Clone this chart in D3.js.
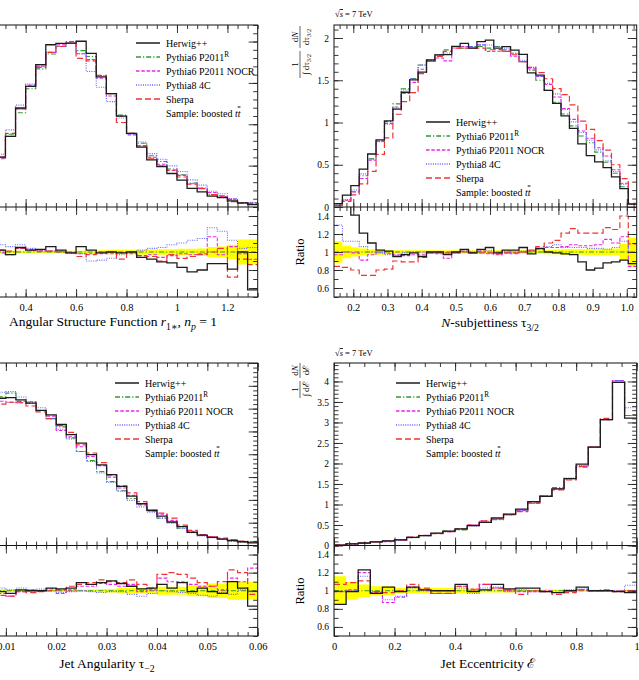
<!DOCTYPE html>
<html>
<head>
<meta charset="utf-8">
<script src="https://cdnjs.cloudflare.com/ajax/libs/d3/7.8.5/d3.min.js"></script>
<style>
  body { margin: 0; background: #fff; }
  svg { font-family: "Liberation Serif", "DejaVu Serif", serif; }
</style>
</head>
<body>
<svg class="viz" width="639" height="680"></svg>
<script>
// generator names (legend order)
var genNames = ["Herwig++", "Pythia6 P2011", "Pythia6 P2011 NOCR", "Pythia8 4C", "Sherpa"];
var sampleText = "Sample: boosted ";

// ---- angular structure function r1*, np=1 (30 bins) ----
// ref = Pythia6 P2011R main values, others = ratio to ref
var r1Range = [0.12, 1.32];
var r1Ref = [0.05,0.15,0.30,0.45,0.59,0.88,1.14,1.43,1.67,1.85,1.94,2.00,1.89,1.82,1.59,1.37,1.11,0.89,0.77,0.62,0.55,0.46,0.39,0.29,0.23,0.15,0.13,0.09,0.05,0.05];
var r1Herwig = [1.0,1.0,1.0,1.0,1.02,0.97,1.05,1.02,1.03,1.06,1.02,0.99,1.06,1.02,0.99,1.0,0.99,1.0,0.94,0.92,0.89,0.88,0.83,0.78,0.80,0.87,0.87,0.81,1.0,0.58];
var r1Nocr = [1.0,1.0,1.0,1.0,0.99,0.97,1.04,1.03,1.02,1.01,1.01,0.99,0.98,0.98,0.98,0.98,0.99,0.98,0.96,0.97,0.94,0.96,0.98,0.97,0.98,1.17,0.97,1.06,0.98,0.92];
var r1Py8 = [1.02,1.03,1.05,1.07,1.08,1.06,1.08,1.04,1.02,1.01,1.0,0.99,0.98,0.90,0.91,0.93,0.97,0.99,1.02,1.04,1.05,1.08,1.10,1.13,1.15,1.27,1.23,1.13,1.04,1.05];
var r1Sherpa = [1.0,1.0,1.0,1.0,1.02,1.01,1.04,1.02,1.01,1.01,1.0,0.99,0.95,0.97,1.0,1.0,0.92,1.0,0.96,0.95,0.90,0.97,0.93,0.95,0.97,1.0,1.04,0.72,0.92,0.86];
var r1Err = [0.03,0.025,0.02,0.02,0.02,0.015,0.015,0.015,0.015,0.015,0.015,0.015,0.015,0.015,0.02,0.025,0.025,0.025,0.03,0.03,0.03,0.03,0.035,0.035,0.04,0.055,0.06,0.08,0.14,0.14];
var r1Ticks = [0.4, 0.6, 0.8, 1, 1.2];
var r1TickLabels = ["0.4", "0.6", "0.8", "1", "1.2"];
var r1YTicks = [0.5, 1, 1.5, 2];

// ---- N-subjettiness tau3/2 (36 bins) ----
var tauRange = [0.1436, 1.029];
var tauRef = [0.02,0.08,0.18,0.37,0.57,0.78,1.01,1.22,1.40,1.52,1.68,1.74,1.80,1.86,1.90,1.88,1.90,1.90,1.88,1.90,1.86,1.82,1.72,1.62,1.50,1.38,1.24,1.10,0.96,0.84,0.76,0.65,0.53,0.40,0.24,0.04];
var tauHerwig = [2.0,1.75,1.41,1.21,1.10,1.02,1.01,0.95,0.97,0.99,0.95,1.0,1.0,0.97,1.0,1.03,0.99,1.03,1.05,0.99,1.02,1.02,1.05,0.98,1.04,1.0,0.99,0.98,0.97,0.89,0.80,0.82,0.88,0.89,0.91,0.87];
var tauNocr = [0.97,1.0,0.99,0.91,0.97,1.0,0.98,0.97,0.96,0.97,0.97,0.99,0.98,0.93,0.99,1.01,0.99,1.01,0.98,0.97,0.99,0.98,1.0,1.01,1.03,1.05,1.05,1.06,1.08,1.07,1.07,1.08,1.14,1.10,1.17,0.84];
var tauPy8 = [1.30,1.12,1.12,1.06,1.0,0.99,0.97,0.96,0.99,1.0,1.0,0.99,1.0,0.98,1.0,1.01,1.0,1.01,1.02,1.0,1.01,1.0,1.01,1.02,1.03,1.06,1.08,1.05,1.05,1.05,1.04,1.04,1.03,1.05,1.12,1.0];
var tauSherpa = [0.84,0.83,0.80,0.74,0.74,0.80,0.81,0.90,0.89,0.89,0.94,0.99,0.99,0.99,0.99,1.0,0.99,0.99,0.99,0.98,0.99,0.99,1.0,1.02,1.06,1.10,1.13,1.21,1.26,1.21,1.21,1.21,1.27,1.25,1.40,1.09];
var tauErr = [0.12,0.07,0.05,0.04,0.03,0.03,0.025,0.02,0.02,0.02,0.02,0.02,0.02,0.02,0.02,0.02,0.02,0.02,0.02,0.02,0.02,0.02,0.02,0.02,0.02,0.025,0.025,0.03,0.03,0.03,0.035,0.035,0.035,0.04,0.09,0.16];
var tauTicks = [0.2, 0.3, 0.4, 0.5, 0.6, 0.7, 0.8, 0.9, 1.0];
var tauTickLabels = ["0.2", "0.3", "0.4", "0.5", "0.6", "0.7", "0.8", "0.9", "1.0"];
var tauYTicks = [0, 0.5, 1, 1.5, 2];
var tauYLabels = ["0", "0.5", "1", "1.5", "2"];

// ---- jet angularity tau-2 (30 bins) ----
var angRange = [0, 0.06];
var angRef = [34.5,34.2,33.8,33.2,32.6,33.4,31.6,31.2,29.6,27.8,26.0,23.6,20.6,18.6,16.2,14.0,12.0,10.3,9.0,7.5,6.0,5.0,3.8,2.9,2.2,1.8,1.45,1.0,0.8,0.7];
var angHerwig = [1.0,1.0,1.0,1.0,0.99,0.97,1.01,1.0,1.0,1.03,1.02,1.03,1.09,1.07,1.09,1.11,1.08,1.05,1.02,1.03,1.07,1.03,1.09,0.99,1.03,0.99,0.97,1.10,1.03,0.83];
var angNocr = [0.97,0.97,0.97,0.97,0.97,0.94,0.99,1.01,1.0,1.02,0.97,1.01,1.05,1.05,1.08,1.07,1.05,1.07,0.99,1.01,1.14,1.10,1.10,1.07,1.05,1.05,1.01,1.14,1.10,1.25];
var angPy8 = [1.03,1.03,1.03,1.03,1.03,1.01,1.03,1.01,1.02,1.0,0.98,0.99,1.0,0.99,0.98,0.99,0.99,0.96,0.94,0.97,1.0,0.99,0.98,0.97,0.95,0.94,0.98,0.96,1.01,0.99];
var angSherpa = [0.95,0.95,0.95,0.95,0.95,0.94,0.99,0.98,0.99,1.0,1.01,1.05,1.07,1.09,1.12,1.10,1.09,1.12,1.07,1.03,1.18,1.20,1.18,1.14,1.09,1.05,1.10,1.23,1.20,0.96];
var angErr = [0.03,0.03,0.025,0.02,0.02,0.015,0.015,0.015,0.015,0.015,0.015,0.015,0.015,0.015,0.02,0.02,0.03,0.03,0.03,0.03,0.045,0.045,0.045,0.06,0.06,0.08,0.08,0.1,0.1,0.1];
var angTicks = [0.01, 0.02, 0.03, 0.04, 0.05, 0.06];
var angTickLabels = ["0.01", "0.02", "0.03", "0.04", "0.05", "0.06"];
var angYTicks = [5, 10, 15, 20, 25, 30, 35, 40];

// ---- jet eccentricity (25 bins) ----
var eccRange = [0, 1];
var eccRef = [0.012,0.04,0.05,0.09,0.11,0.14,0.19,0.24,0.30,0.35,0.38,0.49,0.56,0.63,0.75,0.86,1.04,1.21,1.41,1.63,1.91,2.40,3.07,4.02,3.17];
var eccHerwig = [0.85,0.99,1.23,0.97,1.04,0.99,1.04,1.01,1.0,1.0,1.07,0.99,1.01,1.07,1.02,1.03,1.03,0.99,0.98,1.0,1.04,1.0,1.0,0.99,0.98];
var eccNocr = [0.99,1.01,1.20,0.98,0.87,0.93,1.04,1.01,0.97,0.97,1.05,1.02,1.07,1.03,1.0,0.99,0.99,1.0,0.98,1.0,1.01,1.0,1.0,1.0,1.0];
var eccPy8 = [0.99,1.0,1.16,0.99,0.90,0.94,1.03,1.0,0.97,0.97,1.03,0.97,1.03,1.04,0.99,1.01,0.99,0.99,0.98,1.01,1.02,1.0,1.0,1.0,1.06];
var eccSherpa = [1.07,1.09,1.11,0.99,0.98,1.0,1.07,1.03,0.97,0.97,1.05,1.01,1.07,1.03,1.01,0.96,1.0,0.99,0.96,0.98,1.01,1.0,1.01,0.99,1.0];
var eccErr = [0.16,0.1,0.07,0.05,0.05,0.03,0.03,0.03,0.03,0.03,0.025,0.025,0.02,0.02,0.02,0.015,0.015,0.015,0.015,0.01,0.01,0.01,0.01,0.01,0.01];
var eccTicks = [0, 0.2, 0.4, 0.6, 0.8, 1];
var eccTickLabels = ["0", "0.2", "0.4", "0.6", "0.8", "1"];
var eccYTicks = [0, 0.5, 1, 1.5, 2, 2.5, 3, 3.5, 4];
var eccYLabels = ["0", "0.5", "1", "1.5", "2", "2.5", "3", "3.5", "4"];

var ratioTicks = [0.6, 0.8, 1, 1.2, 1.4];
var ratioLabels = ["0.6", "0.8", "1", "1.2", "1.4"];

var svg = d3.select(".viz");
var fontFam = "Liberation Serif, DejaVu Serif, serif";

// line styles
var styles = {
  herwig: {color: "#1c1c1c", dash: null, w: 1.3},
  ref:    {color: "#2f9a2f", dash: "5,2,1.2,2", w: 1.1},
  nocr:   {color: "#ee22ee", dash: "3.5,1.8", w: 1.1},
  py8:    {color: "#6464ff", dash: "1,1.3", w: 1.1},
  sherpa: {color: "#f03434", dash: "6,3", w: 1.2}
};
var legendKeys = ["herwig", "ref", "nocr", "py8", "sherpa"];
var drawOrder = ["ref", "nocr", "py8", "sherpa", "herwig"];

function rich(t, parts, size) {
  var shift = 0;
  parts.forEach(function(p) {
    var want = p.sub ? size * 0.3 : (p.sup ? -size * 0.38 : 0);
    var ts = t.append("tspan").text(p.t).attr("dy", want - shift);
    shift = want;
    if (p.i) ts.attr("font-style", "italic");
    if (p.sub || p.sup) ts.attr("font-size", size * 0.72);
    if (p.o) ts.attr("text-decoration", "overline");
  });
  return t;
}

function histPath(vals, edges, sx, sy) {
  var d = "";
  for (var i = 0; i < vals.length; i++) {
    d += (i == 0 ? "M" : "L") + sx(edges[i]) + "," + sy(vals[i]) + "H" + sx(edges[i + 1]);
  }
  return d;
}

function bandPath(err, edges, sx, sy) {
  var d = "";
  for (var i = 0; i < err.length; i++) {
    d += (i == 0 ? "M" : "L") + sx(edges[i]) + "," + sy(1 + err[i]) + "H" + sx(edges[i + 1]);
  }
  for (var j = err.length - 1; j >= 0; j--) {
    d += "L" + sx(edges[j + 1]) + "," + sy(1 - err[j]) + "H" + sx(edges[j]);
  }
  return d + "Z";
}

function minorVals(dom, step) {
  var a = Math.ceil(dom[0] / step - 1e-6), b = Math.floor(dom[1] / step + 1e-6);
  return d3.range(a, b + 1).map(function(i) { return i * step; });
}

function axis(fn, tx, ty, scale, vals, len, labels, pad, fs) {
  var a = fn(scale).tickValues(vals).tickSize(-len).tickPadding(pad || 3)
    .tickFormat(labels ? function(d, i) { return labels[i]; } : function() { return ""; });
  var g = svg.append("g").attr("transform", "translate(" + tx + "," + ty + ")").call(a);
  g.select(".domain").remove();
  g.attr("font-family", fontFam).attr("font-size", fs || 10.5);
  g.selectAll("line").attr("stroke", "#222").attr("stroke-width", 0.9);
  return g;
}

function yLabel(cx, y0, fr) {
  var g = svg.append("g").attr("transform", "translate(" + cx + "," + y0 + ") rotate(-90)");
  var off = 0;
  fr.forEach(function(f) {
    g.append("line").attr("x1", off).attr("x2", off + f.w).attr("y1", 0).attr("y2", 0)
      .attr("stroke", "#000").attr("stroke-width", 0.6);
    rich(g.append("text").attr("x", off + f.w / 2).attr("y", -2).attr("text-anchor", "middle").attr("font-size", 9), f.num, 9);
    rich(g.append("text").attr("x", off + f.w / 2).attr("y", 8.5).attr("text-anchor", "middle").attr("font-size", 9), f.den, 9);
    off += f.w + 3;
  });
}

function legend(lx, ly) {
  legendKeys.forEach(function(k, i) {
    var s = styles[k], yy = ly + i * 14;
    svg.append("line").attr("x1", lx).attr("x2", lx + 24).attr("y1", yy).attr("y2", yy)
      .attr("stroke", s.color).attr("stroke-width", s.w + 0.2).attr("stroke-dasharray", s.dash);
    var t = svg.append("text").attr("x", lx + 30).attr("y", yy + 3.5).attr("font-size", 10);
    var parts = [{t: genNames[i]}];
    if (k == "ref") parts.push({t: "R", sup: true});
    rich(t, parts, 10);
  });
  var t = svg.append("text").attr("x", lx + 30).attr("y", ly + 5 * 14 + 3.5).attr("font-size", 10);
  rich(t, [{t: sampleText}, {t: "t", i: true}, {t: "t", i: true, o: true}], 10);
}

var panels = [
  {range: r1Range, ref: r1Ref, herwig: r1Herwig, nocr: r1Nocr, py8: r1Py8, sherpa: r1Sherpa, err: r1Err,
   x0: -45, x1: 257.7, top: 25, mid: 207, bot: 297, yMax: 2.2, yTicks: r1YTicks, yLabels: null, yMinor: 0.1,
   xTicks: r1Ticks, xLabels: r1TickLabels, xMinor: 0.04, leg: [136, 43],
   title: [{t: "Angular Structure Function "}, {t: "r", i: true}, {t: "1\u2217", sub: true}, {t: ", "}, {t: "n", i: true}, {t: "p", i: true, sub: true}, {t: " = 1"}],
   titleX: 113, titleY: 326},
  {range: tauRange, ref: tauRef, herwig: tauHerwig, nocr: tauNocr, py8: tauPy8, sherpa: tauSherpa, err: tauErr,
   x0: 334, x1: 636.7, top: 25, mid: 207, bot: 297, yMax: 2.154, yTicks: tauYTicks, yLabels: tauYLabels, yMinor: 0.1,
   xTicks: tauTicks, xLabels: tauTickLabels, xMinor: 0.02, leg: [426, 122],
   title: [{t: "N", i: true}, {t: "-subjettiness \u03c4"}, {t: "3/2", sub: true}],
   titleX: 490, titleY: 327},
  {range: angRange, ref: angRef, herwig: angHerwig, nocr: angNocr, py8: angPy8, sherpa: angSherpa, err: angErr,
   x0: -44.5, x1: 257.7, top: 363, mid: 545.5, bot: 636, yMax: 40, yTicks: angYTicks, yLabels: null, yMinor: 1,
   xTicks: angTicks, xLabels: angTickLabels, xMinor: 0.002, leg: [115, 383],
   title: [{t: "Jet Angularity \u03c4"}, {t: "\u22122", sub: true}],
   titleX: 107, titleY: 668},
  {range: eccRange, ref: eccRef, herwig: eccHerwig, nocr: eccNocr, py8: eccPy8, sherpa: eccSherpa, err: eccErr,
   x0: 334, x1: 636.7, top: 363, mid: 545.5, bot: 636, yMax: 4.45, yTicks: eccYTicks, yLabels: eccYLabels, yMinor: 0.1,
   xTicks: eccTicks, xLabels: eccTickLabels, xMinor: 0.05, leg: [396, 383],
   title: [{t: "Jet Eccentricity \u2130"}],
   titleX: 488, titleY: 668}
];

function drawPanel(p, n) {
  var x = d3.scaleLinear().domain(p.range).range([p.x0, p.x1]);
  var y = d3.scaleLinear().domain([0, p.yMax]).range([p.mid, p.top]);
  var yr = d3.scaleLinear().domain([0.5, 1.5]).range([p.bot, p.mid]);
  var nb = p.ref.length;
  var edges = d3.range(nb + 1).map(function(i) { return p.range[0] + i * (p.range[1] - p.range[0]) / nb; });

  var defs = svg.append("defs");
  defs.append("clipPath").attr("id", "cm" + n).append("rect")
    .attr("x", p.x0).attr("y", p.top).attr("width", p.x1 - p.x0).attr("height", p.mid - p.top);
  defs.append("clipPath").attr("id", "cr" + n).append("rect")
    .attr("x", p.x0).attr("y", p.mid).attr("width", p.x1 - p.x0).attr("height", p.bot - p.mid);

  var gm = svg.append("g").attr("clip-path", "url(#cm" + n + ")");
  var gr = svg.append("g").attr("clip-path", "url(#cr" + n + ")");

  gr.append("path").attr("d", bandPath(p.err, edges, x, yr)).attr("fill", "#ffff00").attr("stroke", "none");

  drawOrder.forEach(function(k) {
    var s = styles[k];
    var rat = k == "ref" ? p.ref.map(function() { return 1; }) : p[k];
    var main = p.ref.map(function(v, i) { return v * rat[i]; });
    gm.append("path").attr("d", histPath(main, edges, x, y))
      .attr("fill", "none").attr("stroke", s.color).attr("stroke-width", s.w).attr("stroke-dasharray", s.dash);
    gr.append("path").attr("d", histPath(rat, edges, x, yr))
      .attr("fill", "none").attr("stroke", s.color).attr("stroke-width", s.w).attr("stroke-dasharray", s.dash);
  });

  // frames
  svg.append("rect").attr("x", p.x0).attr("y", p.top).attr("width", p.x1 - p.x0).attr("height", p.bot - p.top)
    .attr("fill", "none").attr("stroke", "#111").attr("stroke-width", 1);
  svg.append("line").attr("x1", p.x0).attr("x2", p.x1).attr("y1", p.mid).attr("y2", p.mid)
    .attr("stroke", "#111").attr("stroke-width", 1);

  // x ticks
  var xm = minorVals(p.range, p.xMinor);
  [p.top, p.mid].forEach(function(yy) {
    axis(d3.axisTop, 0, yy, x, p.xTicks, 8);
    axis(d3.axisTop, 0, yy, x, xm, 4);
  });
  [p.mid, p.bot].forEach(function(yy) {
    axis(d3.axisBottom, 0, yy, x, p.xTicks, 8, yy == p.bot ? p.xLabels : null, 7);
    axis(d3.axisBottom, 0, yy, x, xm, 4);
  });

  // y ticks, main
  var ym = minorVals([0, p.yMax], p.yMinor);
  axis(d3.axisLeft, p.x0, 0, y, p.yTicks, 9, p.yLabels, 5, 9.5);
  axis(d3.axisLeft, p.x0, 0, y, ym, 4.5);
  axis(d3.axisRight, p.x1, 0, y, p.yTicks, 9);
  axis(d3.axisRight, p.x1, 0, y, ym, 4.5);
  // y ticks, ratio
  var rm = minorVals([0.5, 1.5], 0.1);
  axis(d3.axisLeft, p.x0, 0, yr, ratioTicks, 9, p.yLabels ? ratioLabels : null, 5, 9.5);
  axis(d3.axisLeft, p.x0, 0, yr, rm, 4.5);
  axis(d3.axisRight, p.x1, 0, yr, ratioTicks, 9);
  axis(d3.axisRight, p.x1, 0, yr, rm, 4.5);

  legend(p.leg[0], p.leg[1]);

  rich(svg.append("text").attr("x", p.titleX).attr("y", p.titleY).attr("text-anchor", "middle").attr("font-size", 13.5), p.title, 13.5);
}

panels.forEach(drawPanel);

// energy labels
[17, 356].forEach(function(yy) {
  rich(svg.append("text").attr("x", 335).attr("y", yy).attr("font-size", 8.5),
    [{t: "\u221a"}, {t: "s", i: true, o: true}, {t: " = 7 TeV"}], 8.5);
});

// y axis titles on the right-hand panels
yLabel(300, 78, [
  {num: [{t: "1"}], den: [{t: "\u222b d\u03c4"}, {t: "3/2", sub: true}], w: 27},
  {num: [{t: "d"}, {t: "N", i: true}], den: [{t: "d\u03c4"}, {t: "3/2", sub: true}], w: 22}
]);
yLabel(300, 398, [
  {num: [{t: "1"}], den: [{t: "\u222b d\u2130"}], w: 17},
  {num: [{t: "d"}, {t: "N", i: true}], den: [{t: "d\u2130"}], w: 15}
]);

[252, 591].forEach(function(yy) {
  svg.append("text").attr("transform", "translate(304," + yy + ") rotate(-90)")
    .attr("text-anchor", "middle").attr("font-size", 12.5).text("Ratio");
});
</script>
</body>
</html>
